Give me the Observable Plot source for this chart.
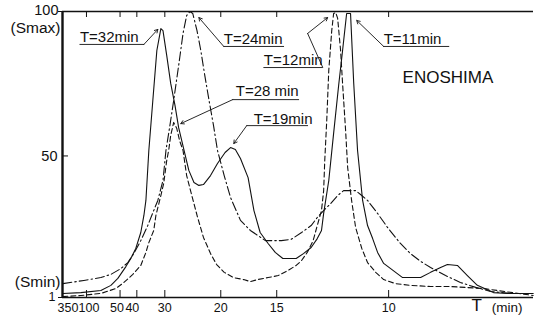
<!DOCTYPE html>
<html><head><meta charset="utf-8">
<script src="https://cdn.jsdelivr.net/npm/d3@7"></script>
<script src="https://cdn.jsdelivr.net/npm/@observablehq/plot@0.6"></script>
<style>html,body{margin:0;padding:0;background:#fff;} #chart svg{display:block;}</style>
</head><body><div id="chart"></div>
<script>
// Axis ticks
const xTickT = [350, 100, 50, 40, 30, 20, 15, 10];
const xTickLabels = ["350", "100", "50", "40", "30", "20", "15", "10"];
const xTickDx = [5.5, 2.5, -3, -4.5, 0, 0, 0, 0];
const yTickS = [100, 50, 1];
const yTickLabels = ["100", "50", "1"];
const yTickDx = [-4, -5, -7];
const yTickDy = [-1, 0.5, -0.5];
const yTickSize = [14.5, 14.5, 12.5];
const yEndS = [100, 1];
const yEndLabels = ["(Smax)", "(Smin)"];
const yEndDy = [17, -15];

// Solid curve (peaks T=32, 19, 11 min)
const solidT = [336,120,70,57.9,51.7,46.0,43.1,40.5,38.2,36.9,36.1,35.0,33.6,32.3,31.1,30.5,29.5,28.5,27.5,26.7,25.6,24.7,23.8,23.0,22.3,21.3,20.4,19.5,18.9,18.4,17.9,17.2,16.7,16.2,15.6,15.1,14.6,13.8,13.4,13.0,12.7,12.5,12.4,12.17,11.96,11.75,11.59,11.43,11.28,11.16,11.02,10.84,10.67,10.5,10.34,10.15,9.94,9.6,9.13,8.89,8.66,8.51,8.3,8.1,7.91,7.62,7.38,6.99];
const solidS = [2.4,2.7,3.4,5.2,7.6,11.7,14.5,18.0,23.5,29.4,34.6,51.9,69.2,86.5,94.1,93.4,84.8,75.1,67.5,59.8,51.9,45.0,40.8,39.8,40.1,43.2,47.4,51.2,52.9,52.2,49.1,42.5,31.1,23.5,19.7,16.6,14.5,14.5,16.2,18.3,21.4,24.2,30.1,41.5,57.8,74.4,86.5,99.3,99.3,75.1,51.9,34.6,25.9,21.4,16.6,12.8,11.0,7.9,7.9,9.7,11.4,12.4,12.1,8.6,5.2,2.7,2.4,2.4];

// Dashed curve (peaks T=28, 12 min)
const dashedT = [336,120,70,53.3,47.3,42,38.2,36.1,35.0,33.3,32.6,31.1,30.3,29.5,29.0,28.5,27.8,27.1,26.5,25.8,25.1,24.3,23.2,22.3,21.3,20.5,19.6,18.6,17.6,17.0,16.4,15.6,14.9,14.3,13.8,13.5,13.2,12.9,12.7,12.5,12.4,12.35,12.26,12.17,12.04,11.96,11.87,11.79,11.67,11.59,11.47,11.39,11.24,11.09,10.87,10.67,10.4,10.15,9.8,9.39,8.89,8.44,7.8,6.99];
const dashedS = [1.3,1.7,2.4,4.1,6.2,9.0,12.1,16.6,20.0,24.2,29.4,36.3,40.5,48.4,51.9,57.1,61.6,59.5,55.3,51.9,43.2,37.3,28.7,21.8,16.2,12.4,9.7,7.9,7.2,6.5,7.2,7.9,8.6,10.3,12.1,13.8,16.6,20.7,25.9,31.1,38.0,48.4,62.3,79.6,93.4,99.3,99.65,97.6,86.5,75.1,58.8,46.0,34.6,25.2,18.0,13.1,9.7,7.2,5.8,5.2,4.8,4.8,4.1,1.7];

// Dash-dot curve (peak T=24 min, plateau near 11 min)
const dashDotT = [336,108.4,70,57.9,49.4,44.8,41.5,38.2,35.4,33.3,32,30.5,29.7,28.7,27.8,26.7,25.8,25.1,24.5,24,23.3,22.7,22.1,21.5,20.9,20.4,19.6,18.9,17.9,17.0,15.8,14.7,14.1,13.5,13.0,12.7,12.4,12.09,11.79,11.55,11.09,10.87,10.67,10.34,10.03,9.66,9.39,9.13,8.89,8.55,8.24,7.94,7.67,7.34,6.99];
const dashDotS = [5.8,6.9,7.9,9.0,11.0,13.1,16.2,20.7,25.9,31.1,34.6,41.5,51.9,60.5,69.2,81.3,92.4,98.6,100,99.3,93.4,86.5,77.8,69.2,60.5,51.9,43.2,35.6,27.7,24.2,20.7,20.7,21.1,23.5,25.9,28.7,31.1,33.5,36.3,38.0,38.0,36.3,34.6,30.1,25.2,19.7,16.2,13.5,11.4,8.6,6.2,4.5,3.1,2.4,2.4];

// Annotations
const annLabels = ["T=32min", "T=24min", "T=12min", "T=11min", "T=28 min", "T=19min"];
const annT = [124.4, 19.65, 15.92, 10.15, 18.36, 16.72];
const annS = [89.6, 88.9, 81.65, 88.9, 70.6, 61.2];
const annLeaders = [
  [[124.4, 88.6], [36.9, 88.6], [32.0, 93.8]],
  [[14.55, 87.9], [19.65, 87.9], [23.0, 97.9]],
  [[15.92, 80.6], [12.44, 80.6], [13.18, 92.4], [12.22, 97.9]],
  [[8.48, 87.9], [10.15, 87.9], [11.05, 96.9]],
  [[13.66, 69.5], [18.67, 69.5], [26.25, 61.2]],
  [[13.18, 60.5], [17.32, 60.5], [18.56, 54.3]]
];
const siteLabel = ["ENOSHIMA"];
const siteT = [9.6];
const siteS = [75.1];

const toRows = (name, T, S) => T.map((t, i) => ({curve: name, T: t, S: S[i]}));
const solid = toRows("solid", solidT, solidS);
const dashed = toRows("dashed", dashedT, dashedS);
const dashDot = toRows("dashdot", dashDotT, dashDotS);
const fx = d => 1 / d.T;

const leaderLines = annLeaders.flatMap((pts, k) => pts.slice(0, -1).map(([T, S]) => ({k, T, S})));
const leaderArrows = annLeaders.map(pts => {
  const a = pts[pts.length - 2], b = pts[pts.length - 1];
  return {x1: 1 / a[0], y1: a[1], x2: 1 / b[0], y2: b[1]};
});
const annRows = annLabels.map((t, i) => ({text: t, T: annT[i], S: annS[i]}));
const siteRows = siteLabel.map((t, i) => ({text: t, T: siteT[i], S: siteS[i]}));
const xTickF = xTickT.map(t => 1 / t);

const font = "'Liberation Sans', Arial, sans-serif";
const ink = "#111";
const lineOpts = {x: fx, y: "S", stroke: ink, strokeWidth: 1.1};

const chart = Plot.plot({
  width: 534, height: 325,
  marginLeft: 62, marginRight: 1, marginTop: 11, marginBottom: 28,
  style: {fontFamily: font, background: "#fff", color: ink},
  x: {type: "linear", domain: [1 / 350, 0.14315], axis: null},
  y: {type: "linear", domain: [1, 100], axis: null},
  marks: [
    // frame lines
    Plot.ruleY([1], {stroke: ink, strokeWidth: 1.5}),
    Plot.ruleY([100], {stroke: ink, strokeWidth: 1.5}),
    Plot.ruleX([1 / 350], {stroke: ink, strokeWidth: 2.4}),
    // ticks
    Plot.tickX(xTickF.slice(1), {x: d => d, insetTop: 279, stroke: ink}),
    Plot.tickX(xTickF.slice(1), {x: d => d, insetBottom: 280, stroke: ink}),
    Plot.tickY([50], {y: d => d, insetRight: 465, stroke: ink}),
    Plot.axisY({ticks: [1, 100], tickSize: 4, tickFormat: () => "", stroke: ink}),
    // tick labels
    ...xTickT.map((t, i) => Plot.text([t], {x: d => 1 / d, text: () => xTickLabels[i], frameAnchor: "bottom", dx: xTickDx[i], dy: 14, fontSize: 12.5, fill: ink})),
    Plot.text(["T"], {frameAnchor: "bottom-right", textAnchor: "start", dx: -62, dy: 13, fontSize: 17, fill: ink, text: d => d}),
    Plot.text(["(min)"], {frameAnchor: "bottom-right", textAnchor: "end", dx: -11, dy: 14, fontSize: 13.5, fill: ink, text: d => d}),
    ...yTickS.map((s, i) => Plot.text([s], {y: d => d, text: () => yTickLabels[i], frameAnchor: "left", textAnchor: "end", dx: yTickDx[i], dy: yTickDy[i], fontSize: yTickSize[i], fill: ink})),
    ...yEndS.map((s, i) => Plot.text([s], {y: d => d, text: () => yEndLabels[i], frameAnchor: "left", textAnchor: "end", dx: -2, dy: yEndDy[i], fontSize: 15.5, fill: ink})),
    // curves
    Plot.line(solid, {...lineOpts}),
    Plot.line(dashed, {...lineOpts, strokeDasharray: "5,3"}),
    Plot.line(dashDot, {...lineOpts, strokeDasharray: "9,3,1.5,3"}),
    // annotations
    Plot.line(leaderLines, {x: fx, y: "S", z: "k", stroke: ink, strokeWidth: 0.9}),
    Plot.arrow(leaderArrows, {x1: "x1", y1: "y1", x2: "x2", y2: "y2", stroke: ink, strokeWidth: 0.9, headLength: 6, bend: 0}),
    Plot.text(annRows, {x: fx, y: "S", text: "text", textAnchor: "start", lineAnchor: "bottom", fontSize: 15, fill: ink}),
    Plot.text(siteRows, {x: fx, y: "S", text: "text", textAnchor: "start", lineAnchor: "bottom", fontSize: 17, fill: ink})
  ]
});
document.getElementById("chart").appendChild(chart);
</script>
</body></html>
